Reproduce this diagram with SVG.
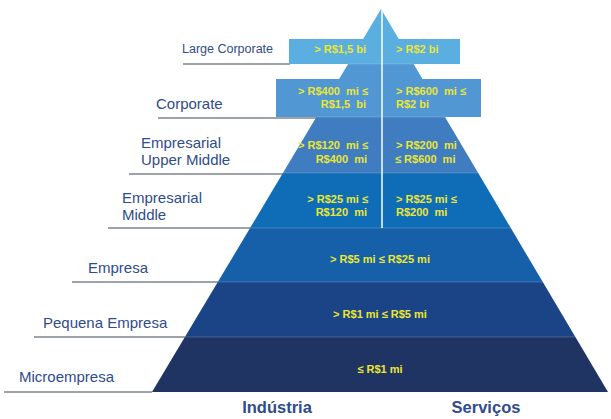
<svg xmlns="http://www.w3.org/2000/svg" width="611" height="419" viewBox="0 0 611 419">
<style>
.lbl{font-family:"Liberation Sans",Arial,sans-serif;font-size:15px;fill:#2f4c8c}
.val{font-family:"Liberation Sans",Arial,sans-serif;font-size:11px;font-weight:bold;fill:#ece632}
.ax{font-family:"Liberation Sans",Arial,sans-serif;font-size:16.5px;font-weight:bold;fill:#2f4c8c}
.sep{stroke:#ffffff;stroke-opacity:0.18;stroke-width:1.2}
.ul{stroke:#9ea3a8;stroke-width:2;fill:none}
</style>
<rect width="611" height="419" fill="#ffffff"/>
<g id="connectors">
<line class="ul" x1="183" y1="64" x2="290" y2="64"/>
<line class="ul" x1="158" y1="118" x2="317" y2="118"/>
<line class="ul" x1="129" y1="174" x2="283" y2="174"/>
<line class="ul" x1="108" y1="228" x2="251" y2="228"/>
<line class="ul" x1="72" y1="282" x2="218" y2="282"/>
<line class="ul" x1="34" y1="337" x2="185" y2="337"/>
<line class="ul" x1="4" y1="392" x2="152" y2="392"/>
</g>
<g id="large-corporate">
<polygon points="381,9 363.1,39 398.8,39" fill="#5baee0"/>
<rect x="289" y="39" width="171" height="25" fill="#5baee0"/>
<text class="lbl" x="182" y="53" style="font-size:12.5px">Large Corporate</text>
<text class="val" x="366" y="53" text-anchor="end">&gt; R$1,5 bi</text>
<text class="val" x="396" y="53">&gt; R$2 bi</text>
</g>
<g id="corporate">
<polygon points="348.1,64 413.6,64 422.5,79 339.1,79" fill="#5197d4"/>
<rect x="276" y="79" width="205" height="38" fill="#5197d4"/>
<text class="lbl" x="156" y="109">Corporate</text>
<text class="val" x="368" y="95" text-anchor="end">&gt; R$400&#160; mi ≤</text>
<text class="val" x="366" y="108" text-anchor="end">R$1,5&#160; bi</text>
<text class="val" x="396" y="95">&gt; R$600&#160; mi ≤</text>
<text class="val" x="396" y="108">R$2 bi</text>
</g>
<g id="empresarial-upper-middle">
<polygon points="316.4,117 445,117 478.2,173 282.9,173" fill="#3f7dc0"/>
<text class="lbl" x="141" y="148">Empresarial</text>
<text class="lbl" x="141" y="165">Upper Middle</text>
<text class="val" x="368" y="149" text-anchor="end">&gt; R$120&#160; mi ≤</text>
<text class="val" x="367" y="163" text-anchor="end">R$400&#160; mi</text>
<text class="val" x="396" y="149">&gt; R$200&#160; mi</text>
<text class="val" x="395" y="163">≤ R$600&#160; mi</text>
</g>
<g id="empresarial-middle">
<polygon points="282.9,173 478.2,173 510.8,228 250.1,228" fill="#0f6db7"/>
<text class="lbl" x="122" y="203">Empresarial</text>
<text class="lbl" x="122" y="220">Middle</text>
<text class="val" x="368" y="203" text-anchor="end">&gt; R$25 mi ≤</text>
<text class="val" x="367" y="216" text-anchor="end">R$120&#160; mi</text>
<text class="val" x="396" y="203">&gt; R$25 mi ≤</text>
<text class="val" x="396" y="216">R$200&#160; mi</text>
</g>
<g id="empresa">
<polygon points="250.1,228 510.8,228 542.8,282 217.8,282" fill="#1660aa"/>
<text class="lbl" x="88" y="273">Empresa</text>
<text class="val" x="380" y="263" text-anchor="middle">&gt; R$5 mi ≤ R$25 mi</text>
</g>
<g id="pequena-empresa">
<polygon points="217.8,282 542.8,282 575.4,337 184.9,337" fill="#1b4487"/>
<text class="lbl" x="43" y="328">Pequena Empresa</text>
<text class="val" x="380" y="318" text-anchor="middle">&gt; R$1 mi ≤ R$5 mi</text>
</g>
<g id="microempresa">
<polygon points="184.9,337 575.4,337 608,392 152,392" fill="#1f3462"/>
<text class="lbl" x="19" y="382">Microempresa</text>
<text class="val" x="380" y="373" text-anchor="middle">≤ R$1 mi</text>
</g>
<g id="separators">
<line class="sep" x1="348.1" y1="64" x2="413.6" y2="64"/>
<line class="sep" x1="316.4" y1="117" x2="445" y2="117"/>
<line class="sep" x1="282.9" y1="173" x2="478.2" y2="173"/>
<line class="sep" x1="250.1" y1="228" x2="510.8" y2="228"/>
<line class="sep" x1="217.8" y1="282" x2="542.8" y2="282"/>
<line class="sep" x1="184.9" y1="337" x2="575.4" y2="337"/>
<line x1="382" y1="10" x2="382" y2="228" stroke="#ffffff" stroke-width="1.5"/>
</g>
<g id="axis-labels">
<text class="ax" x="277" y="413" text-anchor="middle">Indústria</text>
<text class="ax" x="486" y="413" text-anchor="middle">Serviços</text>
</g>
</svg>
